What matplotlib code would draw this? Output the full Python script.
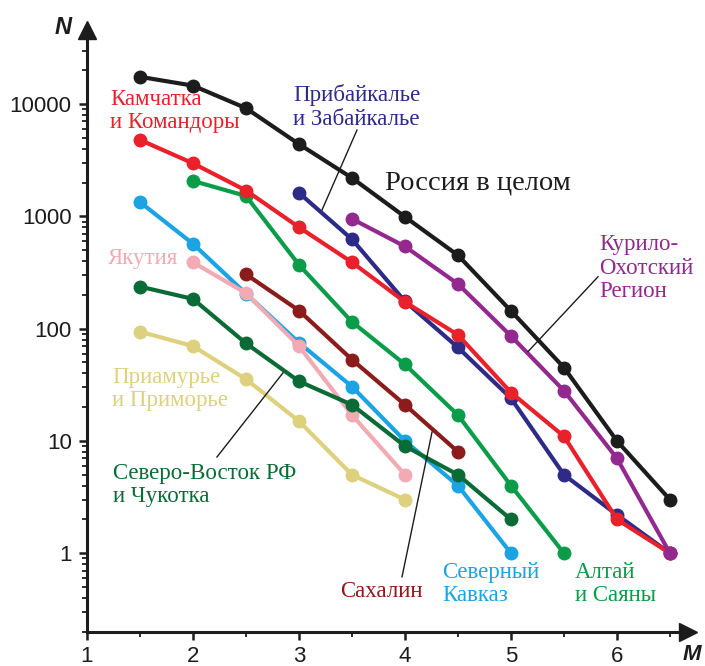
import matplotlib.pyplot as plt
from matplotlib.ticker import FixedLocator, LogLocator, NullFormatter

# magnitude bins
M_russia = [1.5, 2, 2.5, 3, 3.5, 4, 4.5, 5, 5.5, 6, 6.5]
N_russia = [17500, 14600, 9200, 4400, 2200, 990, 450, 144, 45, 10, 3]

M_kamchatka = [1.5, 2, 2.5, 3, 3.5, 4, 4.5, 5, 5.5, 6, 6.5]
N_kamchatka = [4800, 2970, 1700, 800, 390, 173, 88, 27, 11, 2, 1]

M_baikal = [3, 3.5, 4, 4.5, 5, 5.5, 6, 6.5]
N_baikal = [1620, 625, 175, 68, 24, 5, 2.2, 1]

M_kurily = [3.5, 4, 4.5, 5, 5.5, 6, 6.5]
N_kurily = [950, 540, 250, 86, 28, 7, 1]

M_altai = [2, 2.5, 3, 3.5, 4, 4.5, 5, 5.5]
N_altai = [2070, 1520, 370, 115, 48, 17, 4, 1]

M_kavkaz = [1.5, 2, 2.5, 3, 3.5, 4, 4.5, 5]
N_kavkaz = [1340, 570, 205, 75, 30.5, 10, 4, 1]

M_yakutia = [2, 2.5, 3, 3.5, 4]
N_yakutia = [390, 207, 70, 17, 5]

M_sakhalin = [2.5, 3, 3.5, 4, 4.5]
N_sakhalin = [305, 145, 53, 21, 8]

M_northeast = [1.5, 2, 2.5, 3, 3.5, 4, 4.5, 5]
N_northeast = [237, 184, 74, 34, 21, 9, 5, 2]

M_amur = [1.5, 2, 2.5, 3, 3.5, 4]
N_amur = [94, 70, 35.5, 15, 5, 3]

# (M, N, colour, zorder)
series = [
    (M_kavkaz, N_kavkaz, "#1ba3e3", 2),
    (M_yakutia, N_yakutia, "#f2aab4", 3),
    (M_amur, N_amur, "#ddd17e", 2),
    (M_northeast, N_northeast, "#0b6b36", 3),
    (M_sakhalin, N_sakhalin, "#8c1b1b", 3),
    (M_altai, N_altai, "#0b9c4a", 3),
    (M_baikal, N_baikal, "#2e2a88", 4),
    (M_kamchatka, N_kamchatka, "#e8212b", 5),
    (M_kurily, N_kurily, "#93288e", 6),
    (M_russia, N_russia, "#1c1c1c", 7),
]

plt.rcParams["font.family"] = "Liberation Sans"

fig = plt.figure(figsize=(7.05, 6.66), dpi=100)
ax = fig.add_axes([87 / 705, 1 - 632 / 666, (688 - 87) / 705, (632 - 30) / 666])

for m, n, col, z in series:
    ax.plot(m, n, "-o", color=col, lw=3.0, ms=9, zorder=z)

ax.set_yscale("log")
ax.set_xlim(1, 6.67)
ax.set_ylim(0.199, 45700)

ax.spines["top"].set_visible(False)
ax.spines["right"].set_visible(False)
for s in ("left", "bottom"):
    ax.spines[s].set_linewidth(2.2)
    ax.spines[s].set_color("#1c1c1c")

ax.xaxis.set_major_locator(FixedLocator([1, 2, 3, 4, 5, 6]))
ax.xaxis.set_minor_locator(FixedLocator([1.5, 2.5, 3.5, 4.5, 5.5, 6.5]))
ax.set_xticklabels(["1", "2", "3", "4", "5", "6"])
ax.yaxis.set_major_locator(FixedLocator([1, 10, 100, 1000, 10000]))
ax.set_yticklabels(["1", "10", "100", "1000", "10000"])
ax.yaxis.set_minor_locator(LogLocator(base=10, subs=range(2, 10), numticks=20))
ax.yaxis.set_minor_formatter(NullFormatter())

ax.tick_params(axis="both", which="major", direction="out", length=6, width=1.8,
               labelsize=16, color="#1c1c1c", labelcolor="#1c1c1c")
ax.tick_params(axis="both", which="minor", direction="out", length=3.5, width=1.3,
               color="#1c1c1c")
ax.tick_params(axis="y", which="major", pad=5)
ax.tick_params(axis="x", which="major", pad=4)

# axis arrows
ax.plot([0], [1], marker="^", ms=13, color="#1c1c1c", transform=ax.transAxes, clip_on=False)
ax.plot([1], [0], marker=">", ms=13, color="#1c1c1c", transform=ax.transAxes, clip_on=False)

fig.text(63 / 705, 1 - 27 / 666, "N", fontsize=17, fontweight="bold", fontstyle="italic",
         ha="center", va="center", color="#1c1c1c")
fig.text(692 / 705, 1 - 654 / 666, "M", fontsize=16, fontweight="bold", fontstyle="italic",
         ha="center", va="center", color="#1c1c1c")

serif = "Liberation Serif"
labels = [
    (1.217, 8690, "Камчатка\nи Командоры", "#e8212b"),
    (2.943, 9440, "Прибайкалье\nи Забайкалье", "#2e2a88"),
    (5.83, 347, "Курило-\nОхотский\nРегион", "#93288e"),
    (1.198, 426, "Якутия", "#f2aab4"),
    (1.236, 29.2, "Приамурье\nи Приморье", "#ddd17e"),
    (1.245, 4.06, "Северо-Восток РФ\nи Чукотка", "#0b6b36"),
    (3.387, 0.452, "Сахалин", "#8c1b1b"),
    (4.349, 0.533, "Северный\nКавказ", "#1ba3e3"),
    (5.604, 0.533, "Алтай\nи Саяны", "#0b9c4a"),
]
for x, y, t, col in labels:
    ax.text(x, y, t, color=col, fontsize=16.5, family=serif, ha="left", va="center",
            linespacing=1.15)
ax.text(3.811, 1986, "Россия в целом", color="#1c1c1c", fontsize=20.5, family=serif,
        ha="left", va="center")

# leader lines
leaders = [
    ((3.547, 5870), (3.217, 1140)),
    ((5.821, 290), (5.16, 62.4)),
    ((2.226, 7.2), (2.849, 40.4)),
    ((3.972, 0.617), (4.255, 12)),
]
for (x0, y0), (x1, y1) in leaders:
    ax.plot([x0, x1], [y0, y1], color="#1c1c1c", lw=1.0, zorder=8)

fig.savefig("out.png", dpi=100)
